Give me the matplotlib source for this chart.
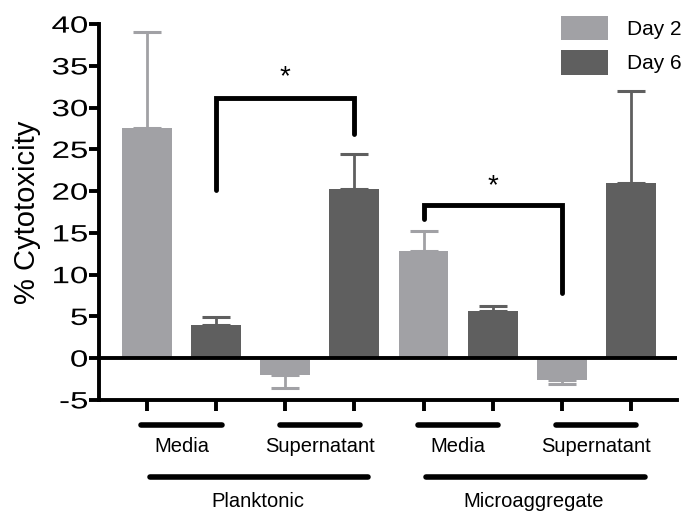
import numpy as np
import matplotlib.pyplot as plt
from matplotlib.patheffects import AbstractPathEffect
from matplotlib.transforms import Affine2D

plt.rcParams['font.family'] = ['Liberation Sans', 'DejaVu Sans']
plt.rcParams['axes.unicode_minus'] = False

# bar order: Planktonic Media, Planktonic Supernatant, Micro Media, Micro Supernatant
day2 = [27.6, -2.0, 12.8, -2.6]
day2_err = [11.5, 1.6, 2.4, 0.5]
day6 = [3.95, 20.3, 5.7, 21.0]
day6_err = [0.95, 4.2, 0.5, 11.0]
sub_labels = ['Media', 'Supernatant', 'Media', 'Supernatant']
group_labels = ['Planktonic', 'Microaggregate']

# significance brackets: (left bar, right bar, left foot, top, right foot)
brackets = [(1, 3, 20.1, 31.2, 26.9), (4, 6, 16.7, 18.4, 7.8)]
star_y = [32.8, 19.7]

light = '#a1a1a5'
dark = '#5f5f5f'


class WideRight(AbstractPathEffect):
    """stretch text horizontally, keeping its right edge in place"""
    def __init__(self, sx=1.5):
        super().__init__()
        self.sx = sx

    def draw_path(self, renderer, gc, tpath, affine, rgbFace=None):
        xr = tpath.get_extents(affine).x1
        t = affine + Affine2D().translate(-xr, 0).scale(self.sx, 1).translate(xr, 0)
        renderer.draw_path(gc, tpath, t, rgbFace)


fig = plt.figure(figsize=(6.83, 5.14), dpi=100)
ax = fig.add_axes([0.145, 0.222, 0.846, 0.731])

x2 = np.arange(4) * 2
x6 = x2 + 1
w = 0.72


def err_pair(vals, errs):
    lo = [e if v < 0 else 0 for v, e in zip(vals, errs)]
    hi = [e if v >= 0 else 0 for v, e in zip(vals, errs)]
    return [lo, hi]


ax.bar(x2, day2, w, color=light, label='Day 2', zorder=2)
ax.bar(x6, day6, w, color=dark, label='Day 6', zorder=2)
ax.errorbar(x2, day2, yerr=err_pair(day2, day2_err), fmt='none', ecolor=light,
            elinewidth=2, capsize=10, capthick=2.2, zorder=1)
ax.errorbar(x6, day6, yerr=err_pair(day6, day6_err), fmt='none', ecolor=dark,
            elinewidth=2, capsize=10, capthick=2.2, zorder=1)

ax.axhline(0, color='black', lw=2.8, zorder=3)

for (a, b, yl, yt, yr), sy in zip(brackets, star_y):
    ax.plot([a, a, b, b], [yl, yt, yt, yr], color='black', lw=3.5,
            solid_capstyle='round', solid_joinstyle='miter', zorder=4)
    ax.text((a + b) / 2, sy, '*', ha='center', va='baseline', fontsize=20)

ax.set_xlim(-0.694, 7.665)
ax.set_ylim(-5, 40)
ax.set_yticks(np.arange(-5, 41, 5))
ax.set_xticks(np.arange(8))
ax.set_xticklabels([])
ax.tick_params(axis='both', width=2.8, length=7, labelsize=17, pad=1)
ax.tick_params(axis='x', length=8)
for lab in ax.get_yticklabels():
    lab.set_path_effects([WideRight(1.4)])
for s in ['top', 'right']:
    ax.spines[s].set_visible(False)
for s in ['left', 'bottom']:
    ax.spines[s].set_linewidth(2.8)
ax.set_ylabel('% Cytotoxicity', fontsize=21, labelpad=15)

# category lines and labels below the axis
for i, lab in enumerate(sub_labels):
    x0, x1 = 2 * i - 0.08, 2 * i + 1.08
    ax.plot([x0, x1], [-8.0, -8.0], color='black', lw=4, solid_capstyle='round', clip_on=False)
    ax.text(2 * i + 0.5, -10.6, lab, ha='center', va='center', fontsize=14.5)
for i, lab in enumerate(group_labels):
    x0, x1 = 4 * i + 0.04, 4 * i + 3.2
    ax.plot([x0, x1], [-14.2, -14.2], color='black', lw=4, solid_capstyle='round', clip_on=False)
    ax.text(4 * i + 1.6, -17.2, lab, ha='center', va='center', fontsize=14.5)

leg = ax.legend(loc='upper left', bbox_to_anchor=(561 / 683, 1 - 16 / 514),
                bbox_transform=fig.transFigure, frameon=False, fontsize=15,
                borderpad=0, borderaxespad=0, handlelength=2.25, handleheight=1.4,
                labelspacing=0.5, handletextpad=0.9)

fig.savefig('out.png', dpi=100)
